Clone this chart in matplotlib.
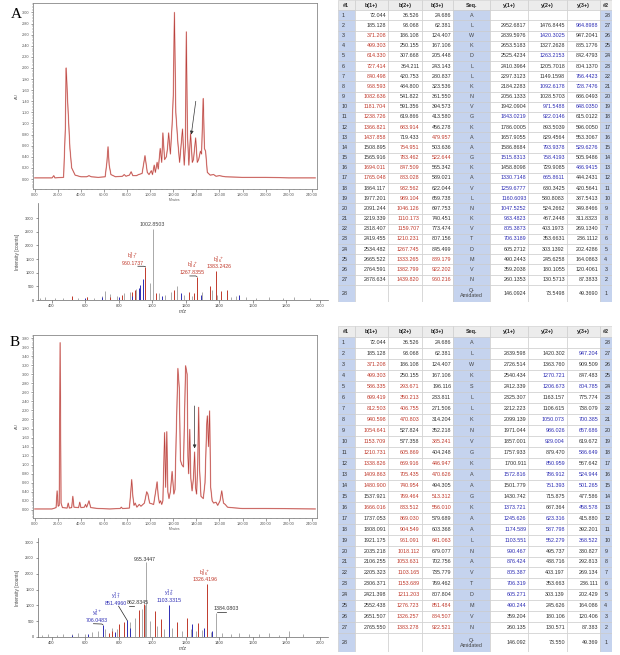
import numpy as np
import matplotlib
matplotlib.use('Agg')
import matplotlib.pyplot as plt
from matplotlib.patches import Rectangle
from matplotlib.ticker import MultipleLocator, FormatStrFormatter

plt.rcParams['font.family'] = ['Liberation Sans', 'DejaVu Sans']

W, H = 620, 655
RED = '#c0392b'
BLUE = '#2d2db4'
GRAY = '#a9a9a9'
TRACE = '#b8403c'
SIDE = '#c5d3ee'

# chromatogram traces, (minutes, AU) vertices
chrom_a = [(0, 0.02), (15, 0.02), (16.5, 0.06), (17.5, 0.02), (25, 0.03), (26.5, 0.9),
           (27.2, 2.0), (27.8, 1.75), (28.4, 1.45), (29.2, 1.1), (30.5, 0.55), (32, 0.2),
           (35, 0.07), (40, 0.04), (45, 0.04), (47, 0.06), (49, 0.04), (55, 0.03), (61, 0.04),
           (62.5, 0.3), (63.5, 0.58), (64.5, 0.25), (66, 0.08), (70, 0.04), (76, 0.05),
           (77.5, 0.08), (79, 0.05), (82, 0.07), (83.5, 0.13), (85, 0.06), (88, 0.06),
           (90, 0.08), (93, 0.1), (95.5, 0.42), (97.5, 0.12), (99, 0.08), (101, 0.15),
           (102, 0.08), (103.5, 0.25), (104.5, 0.12), (106, 0.3), (107, 0.18), (108.7, 0.55),
           (110, 0.3), (111, 0.83), (112.5, 0.35), (114, 0.4), (115, 0.55), (116, 0.83),
           (117.5, 0.45), (119, 0.98), (120, 1.5), (121, 3.0), (122.2, 1.2), (124, 0.65),
           (125.5, 0.3), (128, 0.9), (129.5, 0.25), (130.5, 0.6), (131.3, 2.65), (132.3, 0.8),
           (133.5, 0.25), (135, 0.82), (136.5, 0.3), (137.5, 0.35), (139.4, 0.74), (140.8, 0.3),
           (142, 0.35), (143.5, 0.5), (144.5, 0.45), (145.3, 1.0), (146, 1.45), (147, 0.55),
           (148, 0.5), (149.5, 0.12), (152, 0.07), (155, 0.08), (157, 0.05), (160, 0.06),
           (165, 0.04), (180, 0.03), (200, 0.03), (220, 0.02), (243, 0.02)]

chrom_b = [(0, 0.02), (15, 0.02), (18.5, 0.05), (19.4, 0.42), (20.3, 0.08), (21.2, 0.1),
           (22, 3.7), (22.8, 0.15), (24, 0.05), (28, 0.04), (29, 0.15), (30, 0.04), (32, 0.05),
           (33, 0.3), (34, 0.06), (38, 0.05), (39, 0.17), (40, 0.05), (43, 0.06), (44, 0.12),
           (45, 0.06), (47, 0.2), (48.5, 0.05), (55, 0.03), (65, 0.02), (74, 0.03), (75, 0.06),
           (76, 0.03), (82, 0.04), (83.2, 0.4), (84, 0.67), (85, 0.3), (86, 0.1), (87, 0.15),
           (88.5, 0.06), (90.5, 0.12), (92, 0.08), (95, 0.15), (97, 0.4), (98, 0.35),
           (99.5, 0.15), (103, 0.12), (105, 0.45), (106, 0.62), (107, 0.3), (108, 0.15),
           (109, 0.2), (110, 0.12), (111, 0.2), (112.5, 1.71), (113.4, 0.5), (114.4, 1.73),
           (115.3, 0.4), (116.3, 0.25), (117.5, 0.4), (119, 0.85), (120.5, 0.35), (121.5, 0.45),
           (122.5, 1.6), (124, 3.13), (125.2, 2.7), (126.2, 1.1), (127.4, 1.0), (128.8, 0.95),
           (129.7, 2.0), (130.7, 3.19), (132, 3.0), (132.7, 1.2), (133.3, 0.8), (134.3, 1.78),
           (135.2, 0.7), (136.3, 0.42), (137.5, 0.7), (138.5, 1.28), (139.3, 0.5), (140.2, 0.35),
           (141.2, 1.0), (142, 2.27), (142.8, 0.9), (144, 0.3), (146, 0.25), (147.5, 0.6),
           (149, 1.9), (149.6, 2.08), (150.5, 1.4), (151.5, 2.19), (152.4, 0.5), (153.7, 0.2),
           (155, 0.15), (157, 0.17), (158.5, 0.1), (160.5, 0.2), (162, 0.42), (163.5, 0.15),
           (165, 0.12), (167, 0.06), (170, 0.05), (180, 0.03), (200, 0.03), (243, 0.02)]

# arrows: tail (min, AU) -> head (min, AU)
arrow_a = ((139.5, 1.40), (135.6, 0.80))
arrow_b = ((138.5, 2.30), (138.5, 1.36))

# MS/MS spectra (m/z, counts)
ms_a_gray_mz = [330, 360, 420, 470, 520, 560, 610, 655, 700, 720, 750, 790, 830, 870, 905, 985,
                1002.85, 1040, 1080, 1110, 1150, 1190, 1240, 1300, 1356, 1390, 1470, 1500, 1560,
                1620, 1700, 1780, 1850, 1940]
ms_a_gray_int = [80, 120, 60, 90, 110, 70, 100, 60, 130, 320, 210, 160, 250, 300, 420, 620,
                 2600, 250, 180, 300, 500, 200, 150, 300, 380, 200, 120, 140, 110, 90, 100, 70,
                 120, 60]
ms_a_red_mz = [520, 610, 750, 820, 880, 900, 960.17, 1025, 1130, 1220, 1250, 1267.84, 1346,
               1383.24, 1410, 1450]
ms_a_red_int = [140, 120, 100, 200, 300, 380, 1220, 250, 380, 285, 260, 860, 520, 1060, 320, 360]
ms_a_blue_mz = [600, 700, 800, 880, 920, 930, 946, 1060, 1170, 1290, 1520]
ms_a_blue_int = [80, 100, 120, 150, 450, 560, 760, 150, 260, 170, 170]

ms_b_gray_mz = [340, 380, 430, 470, 520, 560, 600, 640, 680, 720, 760, 790, 871, 900, 941, 957,
                965.34, 985, 1030, 1070, 1120, 1180, 1230, 1260, 1300, 1350, 1384.08, 1420, 1470,
                1520, 1580, 1640, 1700, 1760, 1820, 1900]
ms_b_gray_int = [60, 90, 70, 110, 80, 130, 90, 150, 200, 260, 300, 250, 470, 600, 880, 1000,
                 2360, 500, 350, 250, 300, 200, 250, 180, 220, 150, 760, 120, 100, 130, 90, 80,
                 120, 70, 180, 110]
ms_b_red_mz = [741, 760, 805, 831, 921, 951, 1017, 1051, 1151, 1207, 1277, 1326.42]
ms_b_red_int = [140, 180, 400, 470, 840, 1050, 820, 580, 470, 600, 440, 1660]
ms_b_blue_mz = [520, 620, 706.05, 780, 851.49, 870, 1103.33, 1241, 1311, 1360]
ms_b_blue_int = [60, 90, 390, 150, 525, 300, 1020, 420, 300, 200]

# annotated peaks: (m/z, height, ion, value, colour)
ann_a = [(1002.85, 2600, '', '1002.8503', '#444'),
         (960.17, 1220, 'b$^{3+}_{27}$', '960.1737', RED),
         (1267.84, 860, 'b$^{2+}_{24}$', '1267.8355', RED),
         (1383.24, 1060, 'b$^{2+}_{26}$', '1383.2426', RED)]
ann_b = [(965.34, 2360, '', '965.3447', '#333'),
         (706.05, 390, 'y$^{1+}_{6}$', '706.0483', BLUE),
         (851.49, 525, 'y$^{2+}_{17}$', '851.4960', BLUE),
         (862.83, 600, '', '862.8345', '#333'),
         (1103.33, 1020, 'y$^{1+}_{10}$', '1103.3315', BLUE),
         (1326.42, 1660, 'b$^{2+}_{26}$', '1326.4196', RED),
         (1384.08, 760, '', '1384.0803', '#333')]

# label placement (offset of label from the peak top, m/z and counts) and leader lines
lab_a = [(0, 60), (-75, 40), (-30, 60), (15, 70)]
lead_a = [None, [(915, 1235), (950, 1235), (960.17, 1220)],
          [(1225, 880), (1260, 880), (1267.84, 860)], None]
lab_b = [(-12, 20), (-35, 60), (-65, 470), (50, 410), (-3, 60), (-12, 80), (58, 70)]
lead_b = [None, [(650, 420), (700, 410), (706.05, 390)],
          [(800, 975), (851.49, 525)], [(860, 975), (890, 975)], None, None,
          [(1386, 785), (1440, 785)]]

# fragment tables
heads = ['#1', 'b(1+)', 'b(2+)', 'b(3+)', 'Seq.', 'y(1+)', 'y(2+)', 'y(3+)', '#2']

a_b1 = ['72.044', '185.128', '371.208', '499.303', '614.330', '727.414', '840.498', '968.593',
        '1082.636', '1181.704', '1238.726', '1366.821', '1437.858', '1508.895', '1565.916',
        '1694.011', '1765.048', '1864.117', '1977.201', '2091.244', '2219.339', '2318.407',
        '2419.455', '2534.482', '2665.522', '2764.591', '2878.634', '']
a_b2 = ['36.526', '93.068', '186.108', '250.155', '307.668', '364.211', '420.753', '484.800',
        '541.822', '591.356', '619.866', '683.914', '719.433', '754.951', '783.462', '847.509',
        '883.028', '932.562', '989.104', '1046.126', '1110.173', '1159.707', '1210.231',
        '1267.745', '1333.265', '1382.799', '1439.820', '']
a_b3 = ['24.686', '62.381', '124.407', '167.106', '205.448', '243.143', '280.837', '323.536',
        '361.550', '394.573', '413.580', '456.278', '479.957', '503.636', '522.644', '565.342',
        '589.021', '622.044', '659.738', '697.753', '740.451', '773.474', '807.156', '845.499',
        '889.179', '922.202', '960.216', '']
a_seq = ['A', 'L', 'W', 'K', 'D', 'L', 'L', 'K', 'N', 'V', 'G', 'K', 'A', 'A', 'G', 'K', 'A',
         'V', 'L', 'N', 'K', 'V', 'T', 'D', 'M', 'V', 'N', 'Q-\nAmidated']
a_y1 = ['', '2952.6817', '2839.5976', '2653.5183', '2525.4234', '2410.3964', '2297.3123',
        '2184.2283', '2056.1333', '1942.0904', '1843.0219', '1786.0005', '1657.9055',
        '1586.8684', '1515.8313', '1458.8098', '1330.7148', '1259.6777', '1160.6093',
        '1047.5252', '933.4823', '805.3873', '706.3189', '605.2712', '490.2443', '359.2038',
        '260.1353', '146.0924']
a_y2 = ['', '1476.8445', '1420.3025', '1327.2628', '1263.2153', '1205.7018', '1149.1598',
        '1092.6178', '1028.5703', '971.5488', '922.0146', '893.5039', '829.4564', '793.9378',
        '758.4193', '729.9085', '665.8611', '630.3425', '580.8083', '524.2662', '467.2448',
        '403.1973', '353.6631', '303.1392', '245.6258', '180.1055', '130.5713', '73.5498']
a_y3 = ['', '984.8988', '947.2041', '885.1776', '842.4793', '804.1370', '766.4423', '728.7476',
        '686.0493', '648.0350', '615.0122', '596.0050', '553.3067', '529.6276', '505.9486',
        '486.9415', '444.2431', '420.5641', '387.5413', '349.8466', '311.8323', '269.1340',
        '236.1112', '202.4286', '164.0863', '120.4061', '87.3833', '49.3690']
a_b1_hit = [3, 4, 5, 6, 7, 8, 9, 10, 11, 12, 13, 16, 17]
a_b2_hit = [12, 14, 15, 16, 17, 18, 19, 20, 21, 22, 23, 24, 25, 26, 27]
a_b3_hit = [13, 15, 25, 26, 27]
a_y1_hit = [11, 15, 17, 18, 19, 20, 21, 22, 23]
a_y2_hit = [3, 5, 8, 10, 11, 14, 15, 17]
a_y3_hit = [2, 7, 8, 10, 14, 16]

b_b1 = ['72.044', '185.128', '371.208', '499.303', '586.335', '699.419', '812.503', '940.598',
        '1054.641', '1153.709', '1210.731', '1338.826', '1409.863', '1480.900', '1537.921',
        '1666.016', '1737.053', '1808.091', '1921.175', '2035.218', '2106.255', '2205.323',
        '2306.371', '2421.398', '2552.438', '2651.507', '2765.550', '']
b_b2 = ['36.526', '93.068', '186.108', '250.155', '293.671', '350.213', '406.755', '470.803',
        '527.824', '577.358', '605.869', '669.916', '705.435', '740.954', '769.464', '833.512',
        '869.030', '904.549', '961.091', '1018.112', '1053.631', '1103.165', '1153.689',
        '1211.203', '1276.723', '1326.257', '1383.278', '']
b_b3 = ['24.686', '62.381', '124.407', '167.106', '196.116', '233.811', '271.506', '314.204',
        '352.218', '385.241', '404.248', '446.947', '470.626', '494.305', '513.312', '556.010',
        '579.689', '603.368', '641.063', '679.077', '702.756', '735.779', '769.462', '807.804',
        '851.484', '884.507', '922.521', '']
b_seq = ['A', 'L', 'W', 'K', 'S', 'L', 'L', 'K', 'N', 'V', 'G', 'K', 'A', 'A', 'G', 'K', 'A',
         'A', 'L', 'N', 'A', 'V', 'T', 'D', 'M', 'V', 'N', 'Q-\nAmidated']
b_y1 = ['', '2839.598', '2726.514', '2540.434', '2412.339', '2325.307', '2212.223', '2099.139',
        '1971.044', '1857.001', '1757.933', '1700.911', '1572.816', '1501.779', '1430.742',
        '1373.721', '1245.626', '1174.589', '1103.551', '990.467', '876.424', '805.387',
        '706.319', '605.271', '490.244', '359.204', '260.135', '146.092']
b_y2 = ['', '1420.302', '1363.760', '1270.721', '1206.673', '1163.157', '1106.615', '1050.073',
        '986.026', '929.004', '879.470', '850.959', '786.912', '751.393', '715.875', '687.364',
        '623.316', '587.798', '552.279', '495.737', '438.716', '403.197', '353.663', '303.139',
        '245.626', '180.106', '130.571', '73.550']
b_y3 = ['', '947.204', '909.509', '847.483', '804.785', '775.774', '738.079', '700.385',
        '657.686', '619.672', '586.649', '567.642', '524.944', '501.265', '477.586', '458.578',
        '415.880', '392.201', '368.522', '330.827', '292.813', '269.134', '236.111', '202.429',
        '164.086', '120.406', '87.383', '49.369']
b_b1_hit = [3, 4, 5, 6, 7, 8, 9, 10, 11, 12, 13, 14, 16]
b_b2_hit = [5, 6, 7, 8, 11, 12, 13, 14, 15, 16, 17, 18, 19, 20, 21, 22, 23, 24, 25, 26, 27]
b_b3_hit = [10, 12, 13, 15, 16, 19, 25, 26, 27]
b_y1_hit = [13, 16, 17, 18, 19, 20, 21, 22, 23, 24, 25]
b_y2_hit = [4, 5, 8, 9, 10, 12, 13, 14, 17, 18, 19]
b_y3_hit = [2, 5, 8, 9, 11, 13, 14, 16, 19]

fig = plt.figure(figsize=(W / 100, H / 100), dpi=100)


def box(left, top, right, bottom):
    # pixel box (from top-left) -> figure fraction
    return [left / W, 1 - bottom / H, (right - left) / W, (bottom - top) / H]


def draw_chrom(rect, trace, ylim, arrow):
    ax = fig.add_axes(rect)
    t = [p[0] for p in trace]
    v = [p[1] for p in trace]
    ax.plot(t, v, color='#eeb8b4', lw=1.0, zorder=2)
    ax.plot(t, v, color=TRACE, lw=0.45, zorder=3)
    ax.set_xlim(-1.5, 244.5)
    ax.set_ylim(*ylim)
    ax.xaxis.set_major_locator(MultipleLocator(20))
    ax.xaxis.set_minor_locator(MultipleLocator(5))
    ax.yaxis.set_major_locator(MultipleLocator(0.2))
    ax.yaxis.set_minor_locator(MultipleLocator(0.05))
    ax.xaxis.set_major_formatter(FormatStrFormatter('%.2f'))
    ax.yaxis.set_major_formatter(FormatStrFormatter('%.2f'))
    ax.tick_params(which='major', length=1.8, width=0.4, labelsize=2.8, pad=1, colors='#555')
    ax.tick_params(which='minor', length=1, width=0.3, colors='#555')
    for s in ax.spines.values():
        s.set_color('#888')
        s.set_linewidth(0.6)
    ax.set_xlabel('Minutes', fontsize=2.3, labelpad=0.5, color='#555')
    ax.set_ylabel('AU', fontsize=3, labelpad=2, color='#555')
    (x0, y0), (x1, y1) = arrow
    ax.annotate('', xy=(x1, y1), xytext=(x0, y0),
                arrowprops=dict(arrowstyle='-|>', color='#333', lw=0.5, mutation_scale=5,
                                shrinkA=0, shrinkB=0))
    return ax


def draw_ms(rect, groups, ymax, ann, labs, leads):
    ax = fig.add_axes(rect)
    for mz, inten, col in groups:
        ax.vlines(mz, 0, inten, color=col, lw=0.7)
    ax.set_xlim(319, 2050)
    ax.set_ylim(0, ymax)
    ax.set_xticks(range(400, 2001, 200))
    ax.set_yticks(range(0, 3001, 500))
    ax.tick_params(length=1.8, width=0.4, labelsize=2.9, pad=1.2, colors='#444')
    for s in ['top', 'right']:
        ax.spines[s].set_visible(False)
    for s in ['left', 'bottom']:
        ax.spines[s].set_color('#666')
        ax.spines[s].set_linewidth(0.5)
    ax.set_ylabel('Intensity [counts]', fontsize=3.4, labelpad=3.5, color='#444')
    ax.set_xlabel('m/z', fontsize=3.6, style='italic', labelpad=0.5, color='#444')
    for (mz, h, ion, val, col), (dx, dy), lead in zip(ann, labs, leads):
        txt = ion + '\n' + val if ion else val
        ax.text(mz + dx, h + dy, txt, fontsize=3.8, color=col, ha='center', va='bottom',
                linespacing=0.85)
        if lead:
            ax.plot([p[0] for p in lead], [p[1] for p in lead], color='#222', lw=0.5)
    return ax


col_w = [50, 100, 100, 95, 110, 115, 115, 100, 35]


def draw_table(rect, cols, hits):
    ax = fig.add_axes(rect)
    n = len(cols[0])
    heights = [1.0] * n + [1.7]
    xs = np.concatenate([[0], np.cumsum(col_w)])
    ax.set_xlim(0, xs[-1])
    ax.set_ylim(sum(heights), 0)
    ax.axis('off')
    y = 0
    for r, h in enumerate(heights):
        if r == 0:
            texts = heads
        else:
            texts = [str(r)] + [c[r - 1] for c in cols] + [str(n + 1 - r)]
        for c in range(9):
            if r == 0:
                face = '#ececec'
            elif c in (0, 4, 8):
                face = SIDE
            else:
                face = 'white'
            ax.add_patch(Rectangle((xs[c], y), col_w[c], h, facecolor=face,
                                   edgecolor='#c9c9c9', lw=0.4))
            txt = texts[c]
            if not txt:
                continue
            color = '#333'
            if r > 0 and c in (1, 2, 3, 5, 6, 7):
                idx = [1, 2, 3, 5, 6, 7].index(c)
                if r in hits[idx]:
                    color = RED if c < 4 else BLUE
            cy = y + h / 2
            if r == 0:
                ax.text(xs[c] + col_w[c] / 2, cy, txt, fontsize=3.9, ha='center', va='center',
                        color='#222', fontweight='bold')
            elif c in (0, 8):
                ax.text(xs[c] + 12, cy, txt, fontsize=3.9, ha='left', va='center', color='#333')
            elif c == 4:
                ax.text(xs[c] + col_w[c] / 2, cy, txt, fontsize=3.9, ha='center', va='center',
                        color='#444', linespacing=1.0)
            else:
                ax.text(xs[c + 1] - 6, cy, txt, fontsize=3.9, ha='right', va='center', color=color)
        y += h


# ---- panel A
fig.text(11 / W, 1 - 15 / H, 'A', fontsize=11, family='Liberation Serif', va='center', ha='left')
draw_chrom(box(33, 3, 317, 189), chrom_a, (-0.18, 3.17), arrow_a)
draw_ms(box(38, 203, 328, 300),
        [(ms_a_gray_mz, ms_a_gray_int, GRAY), (ms_a_red_mz, ms_a_red_int, RED),
         (ms_a_blue_mz, ms_a_blue_int, BLUE)],
        3550, ann_a, lab_a, lead_a)
draw_table(box(338, 0, 612, 302), [a_b1, a_b2, a_b3, a_seq, a_y1, a_y2, a_y3],
           [a_b1_hit, a_b2_hit, a_b3_hit, a_y1_hit, a_y2_hit, a_y3_hit])

# ---- panel B
fig.text(10 / W, 1 - 343 / H, 'B', fontsize=11, family='Liberation Serif', va='center', ha='left')
draw_chrom(box(33, 335, 317, 518), chrom_b, (-0.18, 3.87), arrow_b)
draw_ms(box(38, 538, 328, 637),
        [(ms_b_gray_mz, ms_b_gray_int, GRAY), (ms_b_red_mz, ms_b_red_int, RED),
         (ms_b_blue_mz, ms_b_blue_int, BLUE)],
        3130, ann_b, lab_b, lead_b)
draw_table(box(338, 326, 612, 652), [b_b1, b_b2, b_b3, b_seq, b_y1, b_y2, b_y3],
           [b_b1_hit, b_b2_hit, b_b3_hit, b_y1_hit, b_y2_hit, b_y3_hit])

fig.savefig('out.png', dpi=100)
